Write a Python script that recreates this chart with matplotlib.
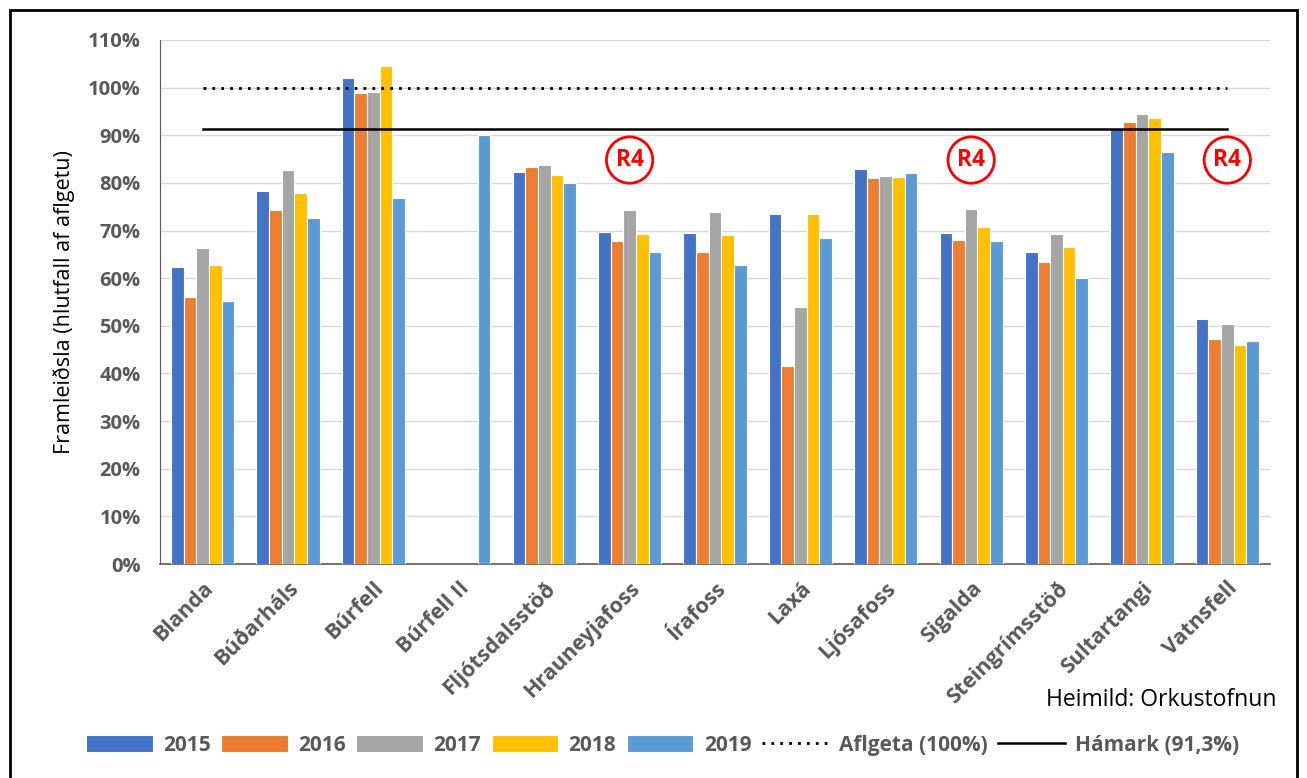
import matplotlib.pyplot as plt
import numpy as np
from matplotlib.patches import Rectangle

plt.rcParams['font.family'] = ['Open Sans', 'DejaVu Sans']

stations = ["Blanda", "Búðarháls", "Búrfell", "Búrfell II", "Fljótsdalsstöð",
            "Hrauneyjafoss", "Írafoss", "Laxá", "Ljósafoss", "Sigalda",
            "Steingrímsstöð", "Sultartangi", "Vatnsfell"]
years = ["2015", "2016", "2017", "2018", "2019"]
nan = np.nan
v2015 = [62.3, 78.3, 102.0, nan, 82.3, 69.7, 69.4, 73.5, 82.9, 69.4, 65.4, 91.5, 51.4]
v2016 = [56.0, 74.3, 98.9, nan, 83.4, 67.8, 65.6, 41.5, 81.0, 68.1, 63.3, 92.8, 47.2]
v2017 = [66.3, 82.7, 99.1, nan, 83.7, 74.3, 73.8, 53.9, 81.5, 74.5, 69.2, 94.5, 50.3]
v2018 = [62.8, 77.9, 104.5, nan, 81.6, 69.2, 69.0, 73.5, 81.3, 70.8, 66.5, 93.7, 46.0]
v2019 = [55.2, 72.6, 76.8, 90.0, 80.0, 65.4, 62.7, 68.4, 82.1, 67.8, 60.1, 86.4, 46.9]
series = [v2015, v2016, v2017, v2018, v2019]
colors = ["#4472C4", "#ED7D31", "#A5A5A5", "#FFC000", "#5B9BD5"]
aflgeta = 100.0
hamark = 91.3
r4_stations = ["Hrauneyjafoss", "Sigalda", "Vatnsfell"]

fig = plt.figure(figsize=(13.07, 7.78), dpi=100)
ax = fig.add_axes([0.1224, 0.275, 0.8493, 0.6736])

x = np.arange(len(stations))
w = 0.148
handles = []
for i, (yr, vals, c) in enumerate(zip(years, series, colors)):
    b = ax.bar(x + (i - 2) * w, vals, width=w, color=c, edgecolor="white",
               linewidth=0.8, label=yr, zorder=3)
    handles.append(b)

l1, = ax.plot([0, len(stations) - 1], [aflgeta, aflgeta], color="black",
              linestyle=(0, (1, 2.2)), linewidth=2, label="Aflgeta (100%)", zorder=4)
l2, = ax.plot([0, len(stations) - 1], [hamark, hamark], color="black",
              linewidth=1.8, label="Hámark (91,3%)", zorder=4)

for s in r4_stations:
    ax.text(stations.index(s), 84.8, "R4", color="red", fontsize=16.5, fontweight="bold",
            ha="center", va="center", zorder=5,
            bbox=dict(boxstyle="circle,pad=0.4", facecolor="white", edgecolor="red", linewidth=2))

ax.set_xlim(-0.5, len(stations) - 0.5)
ax.set_ylim(0, 110)
ax.set_yticks(np.arange(0, 111, 10))
ax.set_yticklabels([f"{t}%" for t in range(0, 111, 10)])
ax.set_xticks(x)
ax.set_xticklabels(stations, rotation=45, ha="right", rotation_mode="anchor")
ax.tick_params(axis="both", length=0, labelcolor="#595959")
ax.tick_params(axis="y", pad=14, labelsize=14.5)
ax.tick_params(axis="x", pad=10, labelsize=15.5)
for lab in ax.get_xticklabels() + ax.get_yticklabels():
    lab.set_fontweight("bold")
ax.grid(axis="y", color="#d9d9d9", linewidth=1, zorder=0)
for sp in ["top", "right"]:
    ax.spines[sp].set_visible(False)
ax.spines["left"].set_color("#595959")
ax.spines["bottom"].set_color("#595959")
ax.spines["bottom"].set_linewidth(1.2)
ax.set_ylabel("Framleiðsla (hlutfall af aflgetu)", fontsize=15.5, color="black")
ax.yaxis.set_label_coords(-0.077, 0.5)

fig.text(0.977, 0.100, "Heimild: Orkustofnun", fontsize=16.5, ha="right", va="center")

leg = fig.legend(handles=handles + [l1, l2], loc="center", bbox_to_anchor=(0.507, 0.042),
                 ncol=7, frameon=False, handlelength=3.2, handleheight=0.9,
                 columnspacing=0.5, handletextpad=0.5, fontsize=15)
for t in leg.get_texts():
    t.set_color("#595959")
    t.set_fontweight("bold")

fig.patches.append(Rectangle((10 / 1307, -0.05), 1287 / 1307, 1.05 - 10 / 778,
                             transform=fig.transFigure, fill=False, edgecolor="black",
                             linewidth=2))

fig.savefig("out.png", dpi=100)
